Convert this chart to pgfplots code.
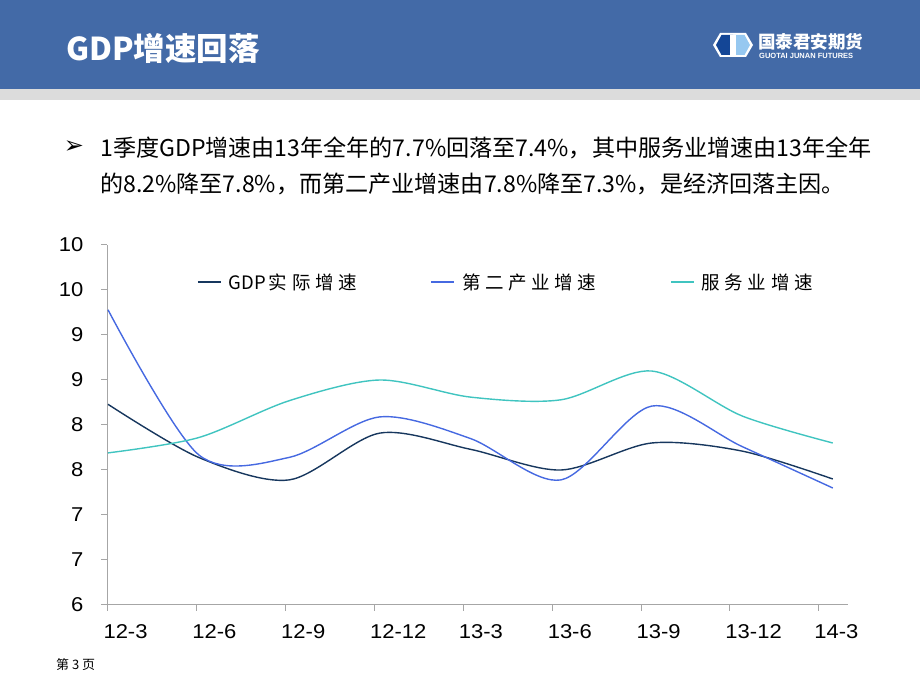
\documentclass[border=0pt]{standalone}
\usepackage{fontspec}
\setmainfont{Liberation Sans}
\newfontfamily\cjk{Noto Sans CJK SC}
\newfontfamily\song{Noto Sans CJK SC}[LetterSpace=25]
\newfontfamily\dejavu{DejaVu Sans}
\newfontfamily\tickfont{Liberation Sans}[FakeStretch=1.1]
\usepackage{pgfplots}
\pgfplotsset{compat=1.18}
\definecolor{headblue}{RGB}{67,106,167}
\definecolor{stripgray}{RGB}{220,220,220}
\definecolor{logodark}{RGB}{20,70,150}
\definecolor{logolight}{RGB}{150,200,240}
\definecolor{axisgray}{RGB}{166,166,166}
\definecolor{gdpc}{RGB}{23,55,94}
\definecolor{secc}{RGB}{70,105,225}
\definecolor{serc}{RGB}{64,196,192}
\begin{document}
\begin{tikzpicture}[x=1pt,y=1pt]
\path[use as bounding box] (0,0) rectangle (920,690);
\fill[headblue] (0,601) rectangle (920,690);
\fill[stripgray] (0,590) rectangle (920,601);
\node[anchor=west, inner sep=0, text=white, font=\cjk\bfseries\fontsize{31.5}{31.5}\selectfont] at (66,642) {GDP增速回落};
\begin{scope}[shift={(733,645)}]
 \fill[white] (-20,0) -- (-13,12) -- (13,12) -- (20,0) -- (13,-12) -- (-13,-12) -- cycle;
 \fill[logodark] (-17,0) -- (-11.5,10) -- (0,10) -- (0,-10) -- (-11.5,-10) -- cycle;
 \fill[logolight] (0,10) -- (11.5,10) -- (17,0) -- (11.5,-10) -- (0,-10) -- cycle;
 \fill[white] (-3,-10) rectangle (3,10);
\end{scope}
\node[anchor=west, inner sep=0, text=white, font=\cjk\bfseries\fontsize{17.5}{17.5}\selectfont] at (758,648) {国泰君安期货};
\node[anchor=west, inner sep=0, text=white, font=\bfseries\fontsize{7.5}{7.5}\selectfont] at (759,634) {GUOTAI JUNAN FUTURES};
\node[inner sep=0, font=\dejavu\fontsize{24}{24}\selectfont] at (74,543) {➢};
\node[anchor=west, inner sep=0, font=\cjk\fontsize{23.1}{23.1}\selectfont] at (100,542) {1季度GDP增速由13年全年的7.7\%回落至7.4\%，其中服务业增速由13年全年};
\node[anchor=west, inner sep=0, font=\cjk\fontsize{23.1}{23.1}\selectfont] at (100,506) {的8.2\%降至7.8\%，而第二产业增速由7.8\%降至7.3\%，是经济回落主因。};
\node[anchor=west, inner sep=0, font=\cjk\fontsize{13}{13}\selectfont] at (56,25) {第 3 页};
\begin{axis}[at={(107pt,85pt)}, anchor=south west, scale only axis,
  width=741pt, height=360pt,
  xmin=-0.011, xmax=8.168, ymin=6, ymax=10,
  axis x line*=bottom, axis y line*=left,
  axis line style={draw=axisgray, line width=1pt},
  tick style={draw=axisgray, line width=1pt},
  tick align=outside, major tick length=6pt,
  xtick={0,0.9807,1.9614,2.9421,3.9228,4.9035,5.8842,6.8649,7.8456},
  xticklabels={12-3,12-6,12-9,12-12,13-3,13-6,13-9,13-12,14-3},
  ytick={6,6.5,7,7.5,8,8.5,9,9.5,10},
  yticklabels={6,7,7,8,8,9,9,10,10},
  tick label style={font=\tickfont\fontsize{20}{20}\selectfont},
  xticklabel style={anchor=north west, xshift=-8pt, yshift=-10pt, font=\tickfont\fontsize{20}{20}\selectfont},
  yticklabel style={anchor=east, xshift=-14pt, font=\tickfont\fontsize{20}{20}\selectfont},
  legend columns=3,
  legend style={draw=none, fill=none, at={(0.1215,0.897)}, anchor=west,
    font=\song\fontsize{18.5}{18.5}\selectfont, inner sep=0pt, nodes={inner sep=0pt},
    /tikz/every even column/.append style={column sep=74pt},
    /tikz/every odd column/.append style={column sep=7pt}},
  legend image code/.code={\draw[#1] (0pt,0pt) -- (23pt,0pt);},
]
\addplot[gdpc, line width=1.4pt, smooth] coordinates {(0,8.23)(1,7.64)(2,7.39)(3,7.91)(4,7.73)(5,7.50)(6,7.80)(7,7.71)(8,7.40)};
\addlegendentry{{\cjk\fontsize{18.5}{18.5}\selectfont GDP\,}实际增速}
\addplot[secc, line width=1.4pt, smooth] coordinates {(0,9.28)(1,7.67)(2,7.64)(3,8.09)(4,7.85)(5,7.39)(6,8.21)(7,7.76)(8,7.30)};
\addlegendentry{第二产业增速}
\addplot[serc, line width=1.4pt, smooth] coordinates {(0,7.69)(1,7.86)(2,8.27)(3,8.50)(4,8.31)(5,8.28)(6,8.60)(7,8.10)(8,7.80)};
\addlegendentry{服务业增速}
\end{axis}
\end{tikzpicture}
\end{document}
